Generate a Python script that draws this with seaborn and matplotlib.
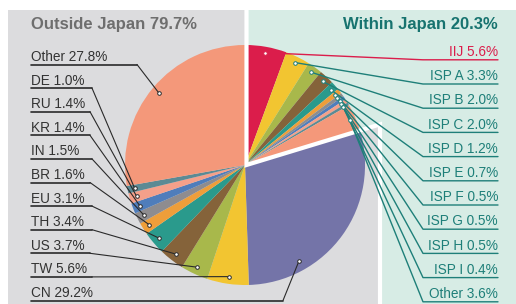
"""Share of traffic sources: within Japan vs outside Japan (pie with leader labels)."""

import matplotlib

matplotlib.use("Agg")
import matplotlib.pyplot as plt
import numpy as np
import seaborn as sns

# Within Japan, clockwise from 12 o'clock
japan_names = ["IIJ", "ISP A", "ISP B", "ISP C", "ISP D", "ISP E",
               "ISP F", "ISP G", "ISP H", "ISP I", "Other"]
japan_share = [5.6, 3.3, 2.0, 2.0, 1.2, 0.7, 0.5, 0.5, 0.5, 0.4, 3.6]

# Outside Japan, continuing clockwise
outside_names = ["CN", "TW", "US", "TH", "EU", "BR", "IN", "KR", "RU", "DE", "Other"]
outside_share = [29.2, 5.6, 3.7, 3.4, 3.1, 1.6, 1.5, 1.4, 1.4, 1.0, 27.8]

# slice colours, same slot order for both groups
japan_colors = ["#DB1D4B", "#F2C531", "#A8B84B", "#85633A", "#2A9A8C", "#EE9E3A",
                "#8E8C8F", "#4F7DBB", "#F4A08A", "#5B8A94", "#F4987A"]
outside_colors = ["#7474A8"] + japan_colors[1:]

GRAY_BG = "#DCDCDE"
GREEN_BG = "#D7ECE5"
TEAL = "#1E7F79"
DARK = "#2A2A2A"

W, H = 516, 304
CX, CY, R = 245, 165, 120  # pie centre / radius in pixels (y down)


def Y(y):
    """Pixel row (top-down) to data y (bottom-up)."""
    return H - y


sns.set_theme(style="white")
plt.rcParams["font.family"] = ["Liberation Sans", "DejaVu Sans"]

fig = plt.figure(figsize=(W / 100, H / 100), dpi=100)
ax = fig.add_axes([0, 0, 1, 1])

values = japan_share + outside_share
colors = japan_colors + outside_colors
explode = [0.025] * len(japan_share) + [0.045] + [0] * (len(outside_share) - 1)
wedges, _ = ax.pie(values, colors=colors, startangle=90, counterclock=False,
                   radius=R, center=(CX, Y(CY)), explode=explode, frame=True,
                   wedgeprops=dict(linewidth=0, zorder=2))
ax.set_xlim(0, W)
ax.set_ylim(0, H)
ax.set_aspect("equal")
ax.axis("off")

# panel split follows the group boundary angle
split = np.deg2rad(90 - sum(japan_share) / sum(values) * 360)
vx = 246.5
bx = 380
by = CY - (bx - vx) * np.tan(split)
ax.fill([8, vx, vx, bx, bx, 8], [Y(10), Y(10), Y(CY), Y(by), Y(H), Y(H)],
        color=GRAY_BG, lw=0, zorder=0)
ax.fill([vx, W, W, bx, bx, vx], [Y(10), Y(10), Y(H), Y(H), Y(by), Y(CY)],
        color=GREEN_BG, lw=0, zorder=0)
ax.plot([vx, vx, bx, bx], [Y(10), Y(CY), Y(by), Y(H)], color="white",
        lw=3, solid_joinstyle="miter", zorder=3)


def anchor(w, frac=0.5, rfrac=0.94):
    ang = np.deg2rad(w.theta2 - frac * (w.theta2 - w.theta1))
    cx, cy = w.center
    return cx + rfrac * w.r * np.cos(ang), cy + rfrac * w.r * np.sin(ang)


fs = 9.8
ax.text(31, Y(24), f"Outside Japan {sum(outside_share):.1f}%", fontsize=12,
        fontweight="bold", color="#6E6E6E", va="center", ha="left", zorder=5)
ax.text(498, Y(24), f"Within Japan {sum(japan_share):.1f}%", fontsize=12,
        fontweight="bold", color="#17736F", va="center", ha="right", zorder=5)

# left labels: top to bottom is the reverse of the pie order
out_wedges = wedges[len(japan_share):]
left_order = list(range(len(outside_names)))[::-1]
left_elbow = [137, 92, 90, 90, 92, 90, 92, 92, 90, 92, 283]
for row, k in enumerate(left_order):
    ty = 57 + 23.6 * row
    uy = ty + 7.5
    ax.text(31, Y(ty), f"{outside_names[k]} {outside_share[k]:.1f}%", fontsize=fs,
            color="#333333", va="center", ha="left", zorder=5)
    if outside_names[k] == "CN":
        px, py = anchor(out_wedges[k], frac=0.74, rfrac=0.92)
    else:
        px, py = anchor(out_wedges[k])
    ax.plot([31, left_elbow[row]], [Y(uy), Y(uy)], color=DARK, lw=1.2, zorder=4)
    ax.plot([left_elbow[row], px], [Y(uy), py], color=DARK, lw=0.8, zorder=4)
    ax.plot(px, py, marker="o", ms=2.6, mfc="white", mec=DARK, mew=0.7, zorder=5)

# right labels: pie order top to bottom
jp_wedges = wedges[:len(japan_share)]
for row, (name, val, w) in enumerate(zip(japan_names, japan_share, jp_wedges)):
    ty = 52 + 24.2 * row
    uy = ty + 7.8
    col = japan_colors[0] if name == "IIJ" else TEAL
    ax.text(498, Y(ty), f"{name} {val:.1f}%", fontsize=fs, color=col,
            va="center", ha="right", zorder=5)
    px, py = anchor(w, rfrac=0.95)
    ax.plot([px, 423, 498], [py, Y(uy), Y(uy)], color=col, lw=1.0, zorder=4)
    ax.plot(px, py, marker="o", ms=2.6, mfc="white", mec=col, mew=0.7, zorder=5)

fig.savefig("out.png", dpi=100)
